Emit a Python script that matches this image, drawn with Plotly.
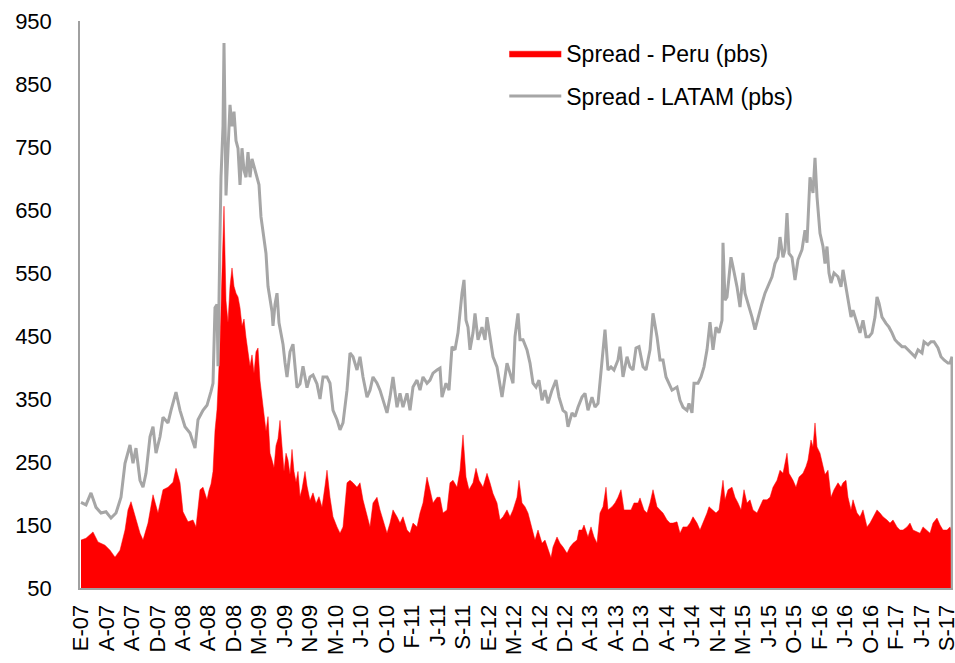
import plotly.graph_objects as go

# x = observation number of the daily series (category axis), y = spread in basis points
latam_obs = [0, 15, 30, 45, 60, 75, 90, 105, 120, 132, 147, 156, 165, 177, 186, 195, 207, 216, 225, 237,
             246, 261, 270, 285, 297, 312, 327, 342, 351, 366, 378, 384, 390, 396, 402, 408, 411, 417, 420, 426,
             429, 435, 441, 447, 453, 459, 465, 471, 477, 483, 489, 495, 501, 507, 513, 522, 528, 534, 540, 546,
             555, 561, 567, 573, 576, 582, 588, 594, 600, 606, 612, 618, 627, 636, 642, 648, 657, 666, 678, 687,
             696, 708, 717, 726, 738, 747, 756, 768, 777, 786, 798, 807, 816, 828, 837, 846, 858, 867, 876, 888,
             897, 906, 918, 927, 936, 948, 957, 966, 978, 987, 996, 1008, 1017, 1026, 1038, 1047, 1056, 1068, 1077, 1083,
             1095, 1104, 1113, 1122, 1131, 1143, 1149, 1155, 1161, 1167, 1176, 1182, 1191, 1203, 1212, 1218, 1227, 1236, 1248, 1257,
             1263, 1272, 1278, 1287, 1296, 1302, 1311, 1317, 1326, 1338, 1347, 1356, 1365, 1374, 1383, 1392, 1401, 1413, 1425, 1434,
             1446, 1455, 1461, 1473, 1482, 1491, 1503, 1512, 1521, 1533, 1542, 1551, 1563, 1572, 1581, 1590, 1599, 1611, 1617, 1626,
             1638, 1647, 1656, 1665, 1674, 1686, 1695, 1707, 1716, 1728, 1737, 1746, 1755, 1764, 1773, 1788, 1797, 1806, 1818, 1824,
             1833, 1839, 1851, 1860, 1869, 1878, 1881, 1887, 1896, 1905, 1914, 1923, 1926, 1932, 1938, 1950, 1956, 1968, 1977, 1986,
             1992, 2001, 2013, 2022, 2031, 2043, 2052, 2061, 2073, 2082, 2091, 2097, 2106, 2112, 2118, 2124, 2133, 2142, 2151, 2163,
             2172, 2178, 2187, 2196, 2202, 2208, 2217, 2226, 2232, 2238, 2244, 2250, 2259, 2271, 2280, 2286, 2295, 2301, 2310, 2316,
             2328, 2337, 2346, 2355, 2364, 2373, 2382, 2388, 2394, 2403, 2415, 2424, 2433, 2442, 2451, 2463, 2472, 2481, 2493, 2502,
             2511, 2523, 2529, 2541, 2550, 2559, 2571, 2580, 2589, 2601, 2607, 2613, 2614]
latam_spread = [186, 182, 201, 178, 169, 171, 161, 169, 194, 248, 277, 248, 272, 221, 210, 232, 290, 306, 264, 290,
                321, 312, 332, 361, 332, 306, 296, 272, 317, 332, 340, 350, 362, 375, 495, 500, 402, 610, 702, 783,
                915, 673, 748, 817, 783, 806, 760, 748, 690, 748, 713, 702, 742, 702, 731, 713, 702, 690, 639, 615,
                581, 529, 506, 489, 466, 500, 518, 471, 454, 437, 408, 385, 425, 437, 402, 368, 374, 402, 368, 385,
                388, 374, 350, 385, 385, 375, 332, 317, 301, 312, 364, 423, 417, 396, 417, 385, 353, 364, 385, 375,
                364, 348, 328, 353, 385, 337, 359, 337, 359, 332, 369, 380, 364, 385, 375, 380, 391, 396, 399, 353,
                375, 364, 433, 428, 455, 518, 539, 475, 464, 428, 455, 486, 444, 464, 444, 480, 449, 417, 401, 375,
                353, 385, 407, 391, 375, 449, 486, 444, 444, 428, 407, 375, 369, 380, 348, 364, 343, 364, 380, 353,
                332, 328, 306, 328, 322, 337, 353, 359, 332, 353, 337, 343, 412, 460, 396, 401, 396, 412, 433, 385,
                417, 401, 396, 431, 433, 401, 396, 428, 486, 449, 412, 412, 385, 375, 364, 369, 348, 337, 332, 343,
                328, 375, 375, 385, 401, 428, 444, 472, 428, 464, 455, 475, 598, 507, 512, 575, 560, 528, 496, 550,
                518, 502, 480, 460, 480, 502, 518, 528, 544, 565, 575, 607, 575, 587, 645, 581, 575, 539, 571, 587,
                618, 598, 702, 677, 733, 671, 613, 592, 565, 592, 550, 534, 550, 544, 528, 555, 528, 507, 480, 491,
                470, 455, 475, 449, 449, 455, 480, 512, 502, 480, 470, 464, 455, 444, 439, 433, 433, 428, 423, 417,
                428, 423, 441, 436, 441, 441, 431, 417, 412, 407, 407, 417, 0]

peru_obs = [0, 15, 36, 51, 72, 87, 102, 117, 132, 141, 150, 162, 177, 186, 201, 216, 231, 246, 261, 276,
            285, 297, 306, 321, 336, 345, 357, 366, 378, 384, 390, 396, 402, 408, 411, 417, 423, 429, 435, 441,
            447, 453, 459, 465, 471, 477, 483, 489, 495, 501, 507, 513, 519, 525, 531, 537, 543, 549, 555, 561,
            567, 573, 579, 585, 591, 597, 603, 609, 615, 621, 627, 633, 639, 645, 651, 657, 663, 672, 678, 687,
            696, 705, 714, 723, 732, 738, 747, 756, 768, 777, 786, 798, 807, 816, 828, 837, 846, 858, 867, 876,
            888, 897, 906, 918, 927, 936, 948, 957, 966, 978, 987, 996, 1008, 1017, 1026, 1038, 1047, 1056, 1068, 1077,
            1086, 1098, 1107, 1116, 1128, 1137, 1146, 1155, 1164, 1176, 1185, 1194, 1206, 1218, 1227, 1236, 1248, 1257, 1266, 1278,
            1287, 1296, 1308, 1314, 1323, 1332, 1341, 1353, 1362, 1371, 1383, 1392, 1401, 1410, 1416, 1428, 1437, 1446, 1458, 1467,
            1476, 1488, 1494, 1503, 1509, 1521, 1530, 1539, 1548, 1557, 1566, 1575, 1581, 1593, 1602, 1611, 1620, 1629, 1641, 1650,
            1659, 1671, 1677, 1689, 1698, 1707, 1716, 1728, 1737, 1746, 1758, 1767, 1776, 1788, 1797, 1806, 1818, 1827, 1836, 1848,
            1857, 1866, 1878, 1884, 1896, 1905, 1914, 1926, 1932, 1941, 1953, 1962, 1971, 1980, 1989, 1998, 2007, 2016, 2028, 2037,
            2046, 2058, 2067, 2076, 2088, 2097, 2106, 2118, 2124, 2136, 2145, 2154, 2166, 2175, 2181, 2190, 2196, 2202, 2208, 2217,
            2226, 2232, 2241, 2250, 2259, 2271, 2280, 2286, 2295, 2301, 2310, 2316, 2328, 2337, 2346, 2358, 2367, 2376, 2388, 2397,
            2406, 2418, 2427, 2436, 2448, 2457, 2466, 2478, 2487, 2496, 2508, 2517, 2526, 2538, 2547, 2556, 2568, 2577, 2586, 2598,
            2607, 2613]
peru_spread = [126, 129, 139, 123, 118, 110, 99, 110, 142, 174, 187, 163, 137, 126, 153, 198, 169, 206, 210, 218,
               240, 217, 171, 155, 158, 147, 206, 210, 190, 205, 215, 235, 300, 333, 368, 437, 552, 656, 506, 471,
               529, 558, 529, 518, 512, 495, 466, 477, 448, 425, 402, 420, 391, 425, 431, 379, 350, 322, 299, 322,
               264, 253, 241, 276, 287, 316, 276, 235, 264, 253, 230, 270, 235, 218, 235, 195, 207, 235, 212, 189,
               201, 184, 195, 178, 212, 237, 194, 163, 147, 137, 147, 217, 221, 217, 210, 217, 190, 163, 147, 185,
               194, 174, 158, 137, 153, 174, 163, 153, 163, 142, 137, 153, 147, 169, 185, 226, 206, 185, 194, 194,
               169, 174, 217, 221, 210, 237, 293, 226, 206, 217, 240, 221, 210, 232, 217, 200, 185, 158, 163, 174,
               163, 174, 194, 221, 185, 179, 169, 142, 126, 142, 121, 126, 110, 98, 115, 131, 121, 115, 105, 115,
               121, 126, 142, 142, 150, 131, 147, 131, 121, 169, 179, 210, 174, 179, 185, 194, 206, 174, 174, 174,
               185, 185, 193, 174, 169, 185, 206, 179, 174, 169, 158, 153, 153, 155, 137, 147, 147, 153, 163, 153,
               142, 153, 169, 179, 174, 169, 174, 221, 190, 206, 210, 194, 185, 174, 206, 185, 190, 174, 169, 179,
               190, 190, 194, 210, 221, 237, 232, 264, 232, 221, 210, 226, 232, 243, 253, 285, 274, 312, 274, 264,
               243, 230, 237, 194, 206, 217, 210, 217, 221, 194, 174, 190, 169, 163, 174, 147, 153, 163, 174, 169,
               163, 158, 153, 158, 147, 142, 142, 147, 153, 142, 139, 137, 147, 142, 137, 153, 161, 150, 142, 142,
               147, 137]

tick_labels = ["E-07", "A-07", "A-07", "D-07", "A-08", "A-08", "D-08", "M-09", "J-09", "N-09",
               "M-10", "J-10", "O-10", "F-11", "J-11", "S-11", "E-12", "M-12", "A-12", "D-12",
               "A-13", "A-13", "D-13", "A-14", "J-14", "N-14", "M-15", "J-15", "O-15", "F-16",
               "J-16", "O-16", "F-17", "J-17", "S-17"]
obs_per_label = 76.4
tick_vals = [i * obs_per_label for i in range(len(tick_labels))]

FONT = "Liberation Sans"

fig = go.Figure()
fig.add_trace(go.Scatter(
    x=peru_obs, y=peru_spread, name="Spread - Peru (pbs)", mode="lines",
    line=dict(color="#FF0000", width=0.5), fill="tozeroy", fillcolor="#FF0000",
    legendgroup="peru"))
fig.add_trace(go.Scatter(
    x=latam_obs, y=latam_spread, name="Spread - LATAM (pbs)", mode="lines",
    line=dict(color="#A6A6A6", width=3), legendgroup="latam"))

fig.update_layout(
    width=955, height=663,
    margin=dict(l=80, r=2, t=21, b=75, autoexpand=False),
    paper_bgcolor="white", plot_bgcolor="white",
    font=dict(family=FONT, color="#000000", size=22),
    showlegend=True,
    legend=dict(x=0.486, y=0.981, xanchor="left", yanchor="top",
                font=dict(family=FONT, size=23, color="#000000"),
                bgcolor="rgba(0,0,0,0)", tracegroupgap=10, itemwidth=52),
    xaxis=dict(range=[-3, 2616], tickmode="array", tickvals=tick_vals, ticktext=tick_labels,
               tickangle=-90, showgrid=False, zeroline=False, showline=True, automargin=False,
               linecolor="#A0A0A0", linewidth=2, ticks="", ticklabelstandoff=6,
               ticklabeloverflow="allow",
               tickfont=dict(family=FONT, size=22, color="#000000")),
    yaxis=dict(range=[50, 950], tickmode="linear", tick0=50, dtick=100, automargin=False,
               showgrid=False, zeroline=False, showline=True, linecolor="#A0A0A0",
               linewidth=1.5, ticks="", ticklabelstandoff=22,
               tickfont=dict(family=FONT, size=22, color="#000000")),
)

# remove the browser's default page margin so the 955x663 figure fills the window exactly
page_css = ("document.body.style.margin='0';"
            "document.body.style.overflow='hidden';"
            "document.documentElement.style.overflow='hidden';")
fig.write_html("out.html", post_script=page_css, config={"displayModeBar": False})
